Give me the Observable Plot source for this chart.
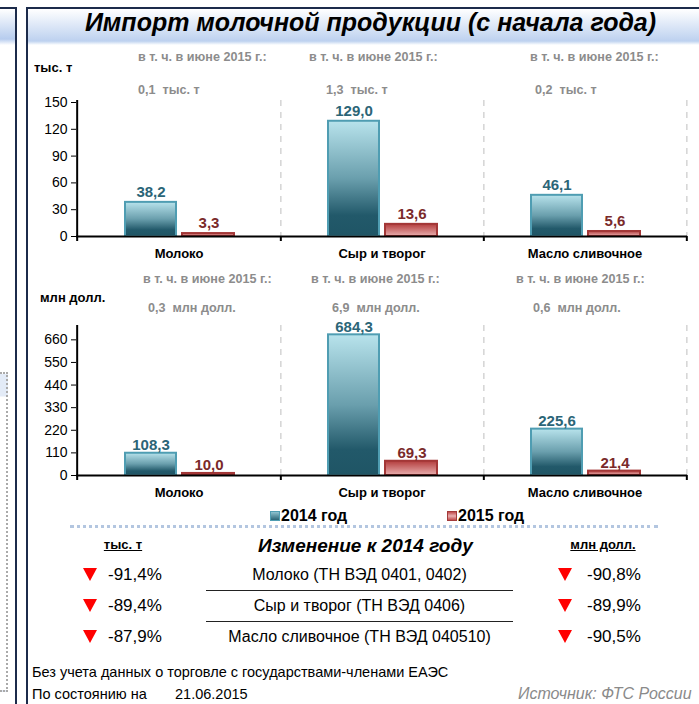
<!DOCTYPE html>
<html>
<head>
<meta charset="utf-8">
<script src="https://cdn.jsdelivr.net/npm/d3@7"></script>
<script src="https://cdn.jsdelivr.net/npm/@observablehq/plot@0.6"></script>
<style>
  html, body { margin: 0; padding: 0; background: #fff; }
  body { width: 699px; height: 704px; position: relative; overflow: hidden;
         font-family: "Liberation Sans", Arial, sans-serif; color: #000; }
  .abs { position: absolute; white-space: nowrap; }
  .tri { position: absolute; width: 0; height: 0; border-left: 7px solid transparent;
         border-right: 7px solid transparent; border-top: 13px solid #ff0000; }
</style>
</head>
<body>
<svg width="0" height="0" style="position:absolute">
  <defs>
    <linearGradient id="g2014" x1="0" y1="0" x2="0" y2="1">
      <stop offset="0" stop-color="#b8e3ec"/>
      <stop offset="0.5" stop-color="#6a9fad"/>
      <stop offset="0.82" stop-color="#22596a"/>
      <stop offset="1" stop-color="#1f5565"/>
    </linearGradient>
    <linearGradient id="g2015" x1="0" y1="0" x2="0" y2="1">
      <stop offset="0" stop-color="#b33c3c"/>
      <stop offset="1" stop-color="#e8aeae"/>
    </linearGradient>
  </defs>
</svg>

<!-- left strip -->
<div class="abs" style="left:0;top:7px;width:15px;height:700px;border-top:2px solid #1c2b4b;border-right:2px solid #1c2b4b;background:linear-gradient(to bottom,#fff 0px,#b6ccee 30px,#fff 36px,#fff 100%);"></div>
<div class="abs" style="left:0;top:372px;width:6px;height:316px;border:2px dotted #aaa;border-left:none;background:linear-gradient(to bottom,#e3ebf7 0px,#e3ebf7 22px,#fff 23px);"></div>
<!-- main frame -->
<div class="abs" style="left:26px;top:7px;width:700px;height:700px;border-left:2px solid #1c2b4b;border-top:2px solid #1c2b4b;background:linear-gradient(to bottom,#fff 0px,#bdd1ef 32px,#fff 36px,#fff 100%);"></div>

<div class="abs" id="title" style="left:28px;top:7px;width:671px;text-align:center;font-size:25px;font-weight:bold;font-style:italic;line-height:30px;padding-left:14px;box-sizing:border-box;">Импорт молочной продукции (с начала года)</div>

<div class="abs" style="left:34px;top:60px;font-size:13px;font-weight:bold;line-height:16px;">тыс. т</div>
<div class="abs" style="left:40px;top:290px;font-size:13px;font-weight:bold;line-height:16px;">млн долл.</div>

<div id="top" class="abs" style="left:0;top:40px;"></div>
<div id="bottom" class="abs" style="left:0;top:262px;"></div>

<!-- legend -->
<div class="abs" style="left:270px;top:511px;width:8px;height:8px;border:1px solid #4f9db2;background:linear-gradient(to bottom,#8fc3d0,#2a6475);"></div>
<div class="abs" style="left:281px;top:507px;font-size:16px;font-weight:bold;line-height:18px;">2014 год</div>
<div class="abs" style="left:447px;top:511px;width:8px;height:8px;border:1px solid #a33a3a;background:linear-gradient(to bottom,#c04a4a,#e8b0b0,#c04a4a);"></div>
<div class="abs" style="left:458px;top:507px;font-size:16px;font-weight:bold;line-height:18px;">2015 год</div>
<div class="abs" style="left:70px;top:525px;width:588px;height:0;border-top:3px dotted #b3c6e0;"></div>

<div id="table"></div>

<div class="abs" style="left:32px;top:663px;font-size:14.5px;line-height:18px;">Без учета данных о торговле с государствами-членами ЕАЭС</div>
<div class="abs" style="left:32px;top:685px;font-size:14.5px;line-height:18px;">По состоянию на</div>
<div class="abs" style="left:175px;top:685px;font-size:14.5px;line-height:18px;">21.06.2015</div>
<div class="abs" style="left:518px;top:684px;font-size:16px;line-height:20px;font-style:italic;color:#8a8a8a;">Источник: ФТС России</div>

<script>
// ---------- data ----------
const categories = ["Молоко", "Сыр и творог", "Масло сливочное"];
const volume2014 = [38.2, 129.0, 46.1];
const volume2015 = [3.3, 13.6, 5.6];
const value2014 = [108.3, 684.3, 225.6];
const value2015 = [10.0, 69.3, 21.4];
const juneHeader = "в т. ч. в июне 2015 г.:";
const juneVolume = ["0,1  тыс. т", "1,3  тыс. т", "0,2  тыс. т"];
const juneValue = ["0,3  млн долл.", "6,9  млн долл.", "0,6  млн долл."];
const volumeTicks = [0, 30, 60, 90, 120, 150];
const valueTicks = [0, 110, 220, 330, 440, 550, 660];
const changeLabels = ["Молоко (ТН ВЭД 0401, 0402)", "Сыр и творог (ТН ВЭД 0406)", "Масло сливочное (ТН ВЭД 040510)"];
const changeVolume = ["-91,4%", "-89,4%", "-87,9%"];
const changeValue = ["-90,8%", "-89,9%", "-90,5%"];

// ---------- layout ----------
const W = 699, ML = 76, MR = 12;
const bw = (W - ML - MR) / categories.length;
const fmt = v => v.toFixed(1).replace(".", ",");
const font = "Liberation Sans, Arial, sans-serif";

function chart(o) {
  const r14 = categories.map((c, i) => ({cat: c, v: o.v14[i]}));
  const r15 = categories.map((c, i) => ({cat: c, v: o.v15[i]}));
  const plotH = o.height - o.marginTop - o.marginBottom;
  const marks = [
    Plot.ruleX(categories, {x: d => d, dx: bw / 2, stroke: "#d4d4d4", strokeWidth: 1.5, strokeDasharray: "6,6", insetTop: -2}),
    Plot.barY(r14, {x: "cat", y: "v", fill: "url(#g2014)", stroke: "#4f9db2", strokeWidth: 2, insetLeft: 48, insetRight: 104}),
    Plot.barY(r15, {x: "cat", y: "v", fill: "url(#g2015)", stroke: "#a33737", strokeWidth: 2, insetLeft: 105, insetRight: 46}),
    Plot.ruleY([0], {stroke: "black", strokeWidth: 2}),
    Plot.ruleX([categories[0]], {x: d => d, dx: -bw / 2, stroke: "black", strokeWidth: 2, insetTop: -2, insetBottom: -5}),
    Plot.ruleX(categories, {x: d => d, dx: bw / 2, stroke: "black", strokeWidth: 2, insetTop: plotH, insetBottom: -5}),
    Plot.text(r14, {x: "cat", y: "v", text: d => fmt(d.v), dx: -28, dy: o.labelDy, fill: "#2b6577", fontWeight: "bold", fontSize: 15}),
    Plot.text(r15, {x: "cat", y: "v", text: d => fmt(d.v), dx: 30, dy: o.labelDy, fill: "#7a2a2a", fontWeight: "bold", fontSize: 15}),
    Plot.text(categories, {x: d => d, frameAnchor: "bottom", dy: 21, fontWeight: "bold", fontSize: 13, fill: "black"})
  ];
  categories.forEach((c, i) => {
    marks.push(Plot.text([juneHeader], {x: () => c, frameAnchor: "top", dy: o.hdrDy, dx: o.hdrDx[i], textAnchor: "start", fill: "#8c8c8c", fontWeight: "bold", fontSize: 12.6}));
    marks.push(Plot.text([o.june[i]], {x: () => c, frameAnchor: "top", dy: o.valDy, dx: o.valDx[i], textAnchor: "start", fill: "#8c8c8c", fontWeight: "bold", fontSize: 12.6}));
  });
  return Plot.plot({
    width: W, height: o.height,
    marginTop: o.marginTop, marginBottom: o.marginBottom, marginLeft: ML, marginRight: MR,
    x: {type: "band", domain: categories, padding: 0, axis: null},
    y: {domain: o.domain, ticks: o.ticks, tickSize: 5, tickPadding: 4, label: null},
    style: {fontFamily: font, fontSize: "14px", color: "black", background: "transparent", overflow: "visible"},
    marks
  });
}

document.getElementById("top").appendChild(chart({
  v14: volume2014, v15: volume2015, june: juneVolume, domain: [0, 150], ticks: volumeTicks,
  height: 222, marginTop: 62, marginBottom: 26, labelDy: -10,
  hdrDy: -50, valDy: -17, hdrDx: [-41, -73, -55], valDx: [-41, -56, -50]
}));
document.getElementById("bottom").appendChild(chart({
  v14: value2014, v15: value2015, june: juneValue, domain: [0, 720], ticks: valueTicks,
  height: 243, marginTop: 65, marginBottom: 30, labelDy: -8,
  hdrDy: -53, valDy: -24, hdrDx: [-36, -71, -69], valDx: [-31, -50, -52]
}));

// ---------- change table ----------
const t = document.getElementById("table");
function add(html, style) {
  const d = document.createElement("div");
  d.className = "abs";
  d.style.cssText = style;
  d.innerHTML = html;
  t.appendChild(d);
  return d;
}
add("тыс. т", "left:73px;width:100px;text-align:center;top:537px;font-size:13px;font-weight:bold;text-decoration:underline;line-height:16px;");
add("Изменение к 2014 году", "left:258px;top:535px;font-size:19px;font-weight:bold;font-style:italic;line-height:22px;");
add("млн долл.", "left:553px;width:100px;text-align:center;top:537px;font-size:13px;font-weight:bold;text-decoration:underline;line-height:16px;");
const rowY = [575, 606, 637];
changeLabels.forEach((lab, i) => {
  const y = rowY[i];
  const tri1 = document.createElement("div"); tri1.className = "tri"; tri1.style.left = "83px"; tri1.style.top = (y - 7) + "px"; t.appendChild(tri1);
  add(changeVolume[i], `left:108px;top:${y - 10}px;font-size:17px;line-height:20px;`);
  add(lab, `left:206px;width:307px;text-align:center;top:${y - 10}px;font-size:16px;line-height:20px;`);
  const tri2 = document.createElement("div"); tri2.className = "tri"; tri2.style.left = "558px"; tri2.style.top = (y - 7) + "px"; t.appendChild(tri2);
  add(changeValue[i], `left:587px;top:${y - 10}px;font-size:17px;line-height:20px;`);
  if (i < changeLabels.length - 1) add("", `left:206px;top:${y + 15}px;width:307px;height:0;border-top:1px solid #222;`);
});
</script>
</body>
</html>
